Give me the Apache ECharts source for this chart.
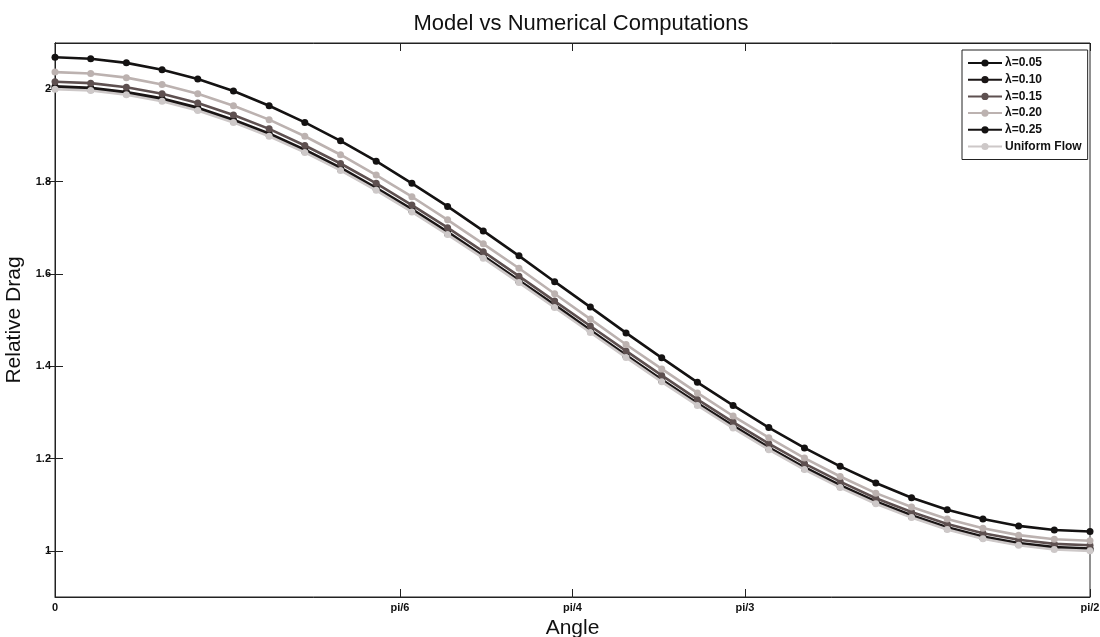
<!DOCTYPE html>
<html>
<head>
<meta charset="utf-8">
<script src="https://cdn.jsdelivr.net/npm/echarts@6/dist/echarts.min.js"></script>
<style>
html,body{margin:0;padding:0;background:#fff;}
#chart{width:1100px;height:637px;}
</style>
</head>
<body>
<div id="chart"></div>
<script>
// Angle samples in degrees (30 samples from 0 to 90, i.e. 0..pi/2)
const angleDeg = Array.from({length: 30}, (_, i) => i * 90 / 29);

const xTickValues = [0, 30, 45, 60, 90];
const xTickLabels = ['0', 'pi/6', 'pi/4', 'pi/3', 'pi/2'];
const yTickValues = [1, 1.2, 1.4, 1.6, 1.8, 2];

const seriesNames = ['\u03bb=0.05', '\u03bb=0.10', '\u03bb=0.15', '\u03bb=0.20', '\u03bb=0.25', 'Uniform Flow'];
const seriesColors = ['#111111', '#1a1515', '#5e5050', '#bcb2b0', '#141212', '#cdc8c8'];

const lam005 = [2.002, 1.999, 1.990, 1.976, 1.956, 1.930, 1.900, 1.865, 1.826, 1.783, 1.736, 1.687, 1.636, 1.583, 1.529, 1.475, 1.421, 1.368, 1.317, 1.268, 1.221, 1.178, 1.139, 1.104, 1.074, 1.048, 1.028, 1.014, 1.005, 1.002];
const lam010 = [2.006, 2.003, 1.994, 1.980, 1.960, 1.934, 1.904, 1.869, 1.830, 1.786, 1.740, 1.691, 1.639, 1.586, 1.533, 1.478, 1.424, 1.371, 1.320, 1.271, 1.224, 1.181, 1.142, 1.107, 1.077, 1.051, 1.031, 1.017, 1.008, 1.005];
const lam015 = [2.016, 2.013, 2.004, 1.990, 1.970, 1.944, 1.914, 1.878, 1.839, 1.796, 1.749, 1.700, 1.648, 1.595, 1.541, 1.487, 1.433, 1.380, 1.328, 1.279, 1.232, 1.189, 1.150, 1.114, 1.084, 1.058, 1.038, 1.024, 1.015, 1.012];
const lam020 = [2.037, 2.034, 2.025, 2.010, 1.990, 1.964, 1.934, 1.898, 1.858, 1.814, 1.767, 1.717, 1.665, 1.612, 1.557, 1.502, 1.447, 1.394, 1.342, 1.292, 1.245, 1.201, 1.161, 1.125, 1.095, 1.069, 1.049, 1.034, 1.025, 1.022];
const lam025 = [2.069, 2.066, 2.057, 2.042, 2.022, 1.996, 1.964, 1.928, 1.888, 1.844, 1.796, 1.746, 1.693, 1.639, 1.583, 1.528, 1.472, 1.418, 1.365, 1.315, 1.267, 1.223, 1.183, 1.147, 1.115, 1.089, 1.069, 1.054, 1.045, 1.042];
const uniform = [2.000, 1.997, 1.988, 1.974, 1.954, 1.928, 1.898, 1.863, 1.824, 1.781, 1.734, 1.685, 1.634, 1.581, 1.527, 1.473, 1.419, 1.366, 1.315, 1.266, 1.219, 1.176, 1.137, 1.102, 1.072, 1.046, 1.026, 1.012, 1.003, 1.000];

const allValues = [lam005, lam010, lam015, lam020, lam025, uniform];

const FONT = '"Liberation Sans", Arial, sans-serif';

const chart = echarts.init(document.getElementById('chart'), null, {renderer: 'canvas'});

const series = allValues.map((vals, k) => ({
  name: seriesNames[k],
  type: 'line',
  data: vals.map((v, i) => [angleDeg[i], v]),
  symbol: 'circle',
  symbolSize: 7,
  showSymbol: true,
  lineStyle: {color: seriesColors[k], width: 2.6},
  itemStyle: {color: seriesColors[k]},
  emphasis: {disabled: true},
  animation: false,
  z: 2 + k
}));

chart.setOption({
  backgroundColor: '#ffffff',
  animation: false,
  title: {
    text: 'Model vs Numerical Computations',
    left: 576, top: 8, textAlign: 'center',
    textStyle: {fontFamily: FONT, fontSize: 22, fontWeight: 'normal', color: '#111'}
  },
  legend: {
    orient: 'vertical',
    left: 962, top: 50,
    data: seriesNames,
    itemWidth: 34, itemHeight: 9, itemGap: 4.7,
    padding: [7, 6, 7, 5],
    borderColor: '#222', borderWidth: 1,
    backgroundColor: '#fff',
    textStyle: {fontFamily: FONT, fontSize: 12, lineHeight: 12, fontWeight: 'bold', color: '#111', padding: [0,0,0,-2]}
  },
  grid: {left: 55, right: 10, top: 43, bottom: 40, show: true, borderColor: '#222', borderWidth: 1, containLabel: false, outerBoundsMode: 'none'},
  xAxis: [{
    type: 'value', min: 0, max: 90,
    name: 'Angle', nameLocation: 'middle', nameGap: 19,
    nameTextStyle: {fontFamily: FONT, fontSize: 21, color: '#111'},
    axisLine: {show: true, lineStyle: {color: '#222'}},
    axisTick: {show: true, inside: true, length: 8, customValues: xTickValues, lineStyle: {color: '#222'}},
    axisLabel: {customValues: xTickValues, margin: 5, fontFamily: FONT, fontSize: 11, fontWeight: 'bold', color: '#111',
      formatter: v => xTickLabels[xTickValues.indexOf(v)] ?? ''},
    splitLine: {show: false}
  }, {
    type: 'value', min: 0, max: 90, position: 'top',
    axisLine: {show: true, lineStyle: {color: '#222'}},
    axisTick: {show: true, inside: true, length: 8, customValues: xTickValues, lineStyle: {color: '#222'}},
    axisLabel: {show: false},
    splitLine: {show: false}
  }],
  yAxis: [{
    type: 'value', min: 0.9, max: 2.1,
    name: 'Relative Drag', nameLocation: 'middle', nameGap: 27,
    nameTextStyle: {fontFamily: FONT, fontSize: 21, color: '#111'},
    axisLine: {show: true, lineStyle: {color: '#222'}},
    axisTick: {show: true, inside: true, length: 8, customValues: yTickValues, lineStyle: {color: '#222'}},
    axisLabel: {customValues: yTickValues, margin: 4, fontFamily: FONT, fontSize: 11, fontWeight: 'bold', color: '#111',
      formatter: v => (Math.abs(v - Math.round(v)) < 1e-9 ? String(Math.round(v)) : v.toFixed(1))},
    splitLine: {show: false}
  }, {
    type: 'value', min: 0.9, max: 2.1, position: 'right',
    axisLine: {show: true, lineStyle: {color: '#222'}},
    axisTick: {show: true, inside: true, length: 8, customValues: yTickValues, lineStyle: {color: '#222'}},
    axisLabel: {show: false},
    splitLine: {show: false}
  }],
  series: series
});
</script>
</body>
</html>
